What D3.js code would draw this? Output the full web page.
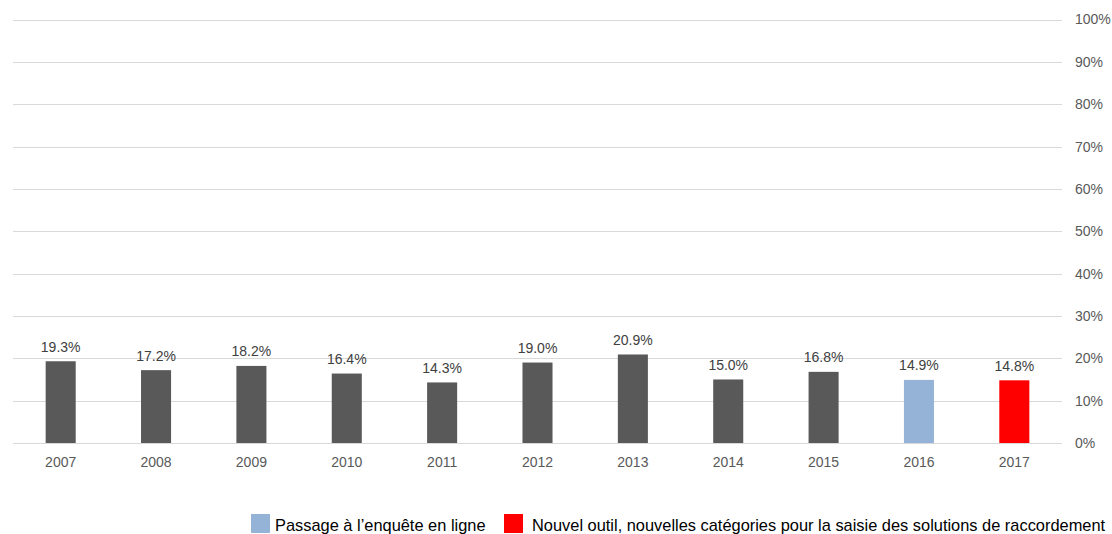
<!DOCTYPE html>
<html><head><meta charset="utf-8">
<script src="https://cdn.jsdelivr.net/npm/d3@7"></script>
<style>body{margin:0;background:#fff}svg{display:block;font-family:"Liberation Sans",Arial,sans-serif}</style>
</head><body><svg id="c" width="1112" height="534"></svg>
<script>
const years = ["2007","2008","2009","2010","2011","2012","2013","2014","2015","2016","2017"];
const values = [19.3,17.2,18.2,16.4,14.3,19.0,20.9,15.0,16.8,14.9,14.8];
const barColors = ["#595959","#595959","#595959","#595959","#595959","#595959","#595959","#595959","#595959","#95b3d7","#ff0000"];
const yTicks = [0,10,20,30,40,50,60,70,80,90,100];
const legendItems = ["Passage à l’enquête en ligne","Nouvel outil, nouvelles catégories pour la saisie des solutions de raccordement"];
const legendColors = ["#95b3d7","#ff0000"];

const svg = d3.select("#c");
const x = d3.scaleBand().domain(years).range([13,1062]).paddingInner(0.685).paddingOuter(0.3425);
const y = d3.scaleLinear().domain([0,100]).range([443,19.5]);

svg.append("g").selectAll("line").data(yTicks).join("line")
  .attr("x1",13).attr("x2",1062).attr("y1",d=>Math.round(y(d))+0.5).attr("y2",d=>Math.round(y(d))+0.5)
  .attr("stroke","#d9d9d9").attr("stroke-width",1);

const yAxis = svg.append("g").attr("transform","translate(1062,0)")
  .call(d3.axisRight(y).tickValues(yTicks).tickFormat(d=>d+"%").tickSize(0).tickPadding(13));
yAxis.select(".domain").remove();
yAxis.selectAll("text").attr("fill","#595959").style("font-size","14px").style("font-family","Liberation Sans, Arial, sans-serif");

svg.append("g").selectAll("rect").data(values).join("rect")
  .attr("x",(d,i)=>x(years[i])).attr("width",x.bandwidth())
  .attr("y",d=>y(d)).attr("height",d=>y(0)-y(d)).attr("fill",(d,i)=>barColors[i]);

svg.append("g").selectAll("text").data(values).join("text")
  .attr("x",(d,i)=>x(years[i])+x.bandwidth()/2).attr("y",d=>y(d)-9.5)
  .attr("text-anchor","middle").attr("fill","#404040").style("font-size","14px")
  .text(d=>d.toFixed(1)+"%");

const xAxis = svg.append("g").attr("transform","translate(0,443)")
  .call(d3.axisBottom(x).tickSize(0).tickPadding(14));
xAxis.select(".domain").remove();
xAxis.selectAll("text").attr("fill","#595959").style("font-size","14px").style("font-family","Liberation Sans, Arial, sans-serif");

// legend
const legendX = [251, 504];
const textGap = [24, 28];
const lg = svg.append("g").attr("transform","translate(0,514)");
legendItems.forEach((t,i)=>{
  const g = lg.append("g").attr("transform",`translate(${legendX[i]},0)`);
  g.append("rect").attr("width",19).attr("height",19).attr("fill",legendColors[i]);
  g.append("text").attr("x",textGap[i]).attr("y",16.7).attr("fill","#000").style("font-size","16.4px").text(t);
});
</script></body></html>
